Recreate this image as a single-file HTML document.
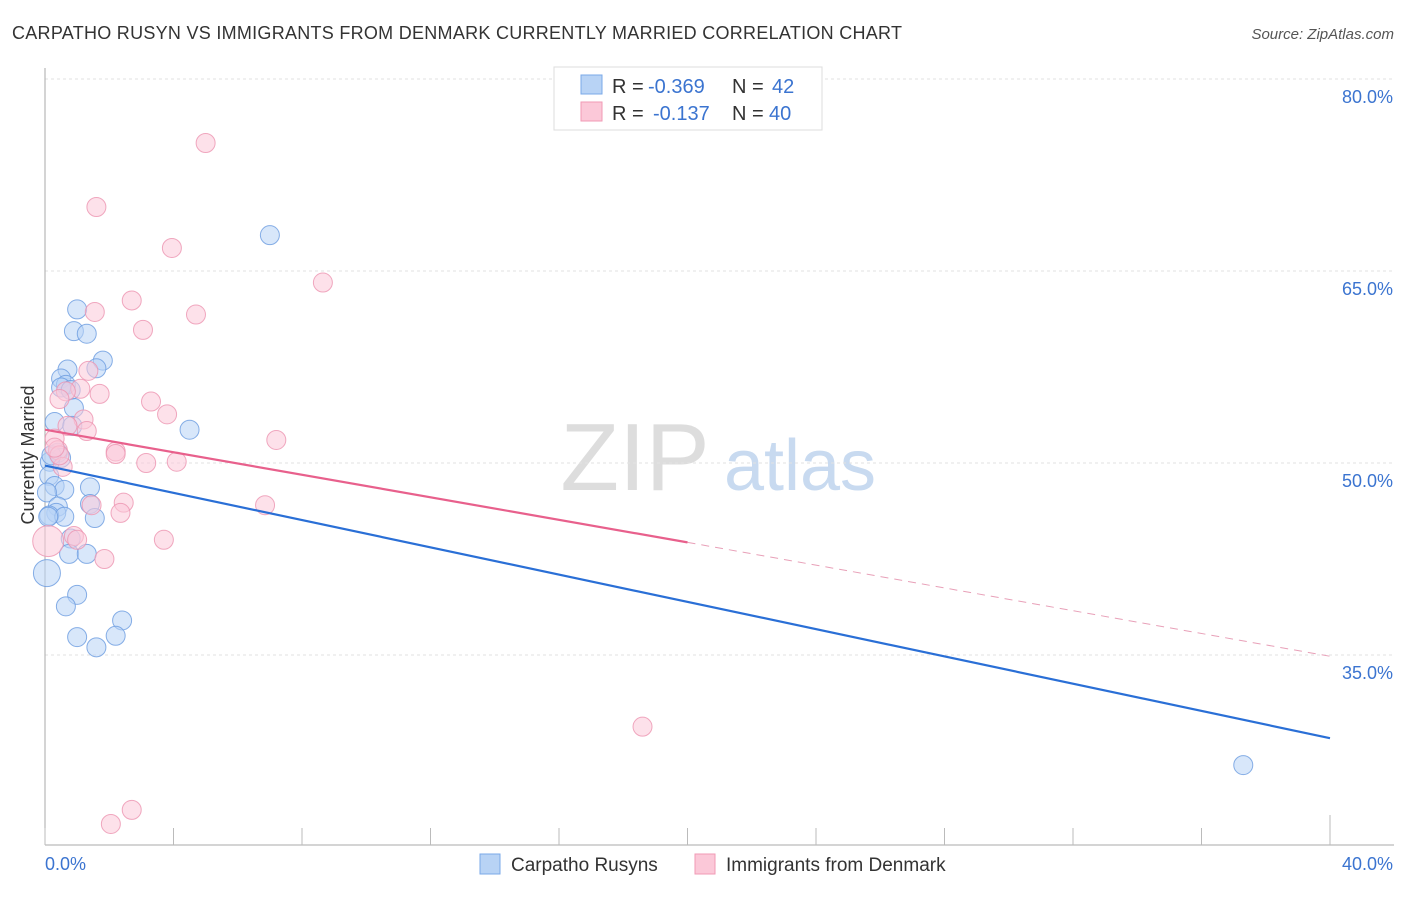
<!DOCTYPE html>
<html><head><meta charset="utf-8"><style>
body{margin:0;background:#fff;font-family:"Liberation Sans",sans-serif}
svg text{font-family:"Liberation Sans",sans-serif}
</style></head><body>
<svg width="1406" height="892" xmlns="http://www.w3.org/2000/svg">
<text x="12" y="39" font-size="18" fill="#333" textLength="890">CARPATHO RUSYN VS IMMIGRANTS FROM DENMARK CURRENTLY MARRIED CORRELATION CHART</text>
<text x="1394" y="39" font-size="15" fill="#555" font-style="italic" text-anchor="end">Source: ZipAtlas.com</text>
<g>
<text x="635" y="490" font-size="96" fill="#ddd" font-family="Liberation Serif" text-anchor="middle">ZIP</text>
<text x="800" y="490" font-size="72" fill="#c8daf0" text-anchor="middle">atlas</text>
</g>
<g id="grid"></g>
<g id="axes"></g>
<g id="pts"></g>
<g id="lines"></g>
<text transform="translate(34,455) rotate(-90)" font-size="18" fill="#333" text-anchor="middle">Currently Married</text>
<g>
<rect x="554" y="67" width="268" height="63" fill="#fff" stroke="#ddd"/>
<rect x="581" y="75" width="21" height="19" fill="#b8d3f5" stroke="#7aa8e8"/>
<rect x="581" y="102" width="21" height="19" fill="#fbc8d8" stroke="#f09ab5"/>
<text x="612" y="93" font-size="20" fill="#333">R =</text>
<text x="648" y="93" font-size="20" fill="#3b74d0">-0.369</text>
<text x="732" y="93" font-size="20" fill="#333">N =</text>
<text x="772" y="93" font-size="20" fill="#3b74d0">42</text>
<text x="612" y="120" font-size="20" fill="#333">R =</text>
<text x="653" y="120" font-size="20" fill="#3b74d0">-0.137</text>
<text x="732" y="120" font-size="20" fill="#333">N =</text>
<text x="769" y="120" font-size="20" fill="#3b74d0">40</text>
</g>
<g>
<rect x="480" y="854" width="20" height="20" fill="#b8d3f5" stroke="#7aa8e8"/>
<text x="511" y="871" font-size="19" fill="#333">Carpatho Rusyns</text>
<rect x="695" y="854" width="20" height="20" fill="#fbc8d8" stroke="#f09ab5"/>
<text x="726" y="871" font-size="19" fill="#333">Immigrants from Denmark</text>
</g>
</svg>
<script>
const yTicks=[35,50,65,80];
const yTickLabels=["35.0%","50.0%","65.0%","80.0%"];
const xTickLabels=["0.0%","40.0%"];
const blueX=[7.0,1.0,0.9,1.3,1.8,0.7,1.6,0.5,0.65,0.5,0.8,0.9,0.3,0.85,4.5,0.4,0.5,0.15,0.13,0.3,1.4,0.6,0.06,0.4,1.4,0.35,0.13,0.6,1.55,0.8,0.75,1.3,0.06,1.0,0.65,2.4,1.0,2.2,1.6,37.3,0.1,0.2];
const blueY=[67.8,62.0,60.3,60.1,58.0,57.3,57.4,56.6,56.1,55.9,55.7,54.3,53.2,52.9,52.6,50.8,50.4,50.1,49.0,48.2,48.1,47.9,47.7,46.6,46.8,46.1,45.9,45.8,45.7,44.1,42.9,42.9,41.4,39.7,38.8,37.7,36.4,36.5,35.6,26.4,45.8,50.6];
const blueR=[9,9,9,9,9,9,9,9,9,9,9,9,9,9,9,9,9,9,9,9,9,9,9,9,9,9,9,9,9,9,9,9,13,9,9,9,9,9,9,9,9,9];
const pinkX=[5.0,1.6,3.95,8.65,2.7,1.55,4.7,3.05,1.35,1.1,0.65,1.7,0.45,3.3,3.8,1.2,0.7,1.3,7.2,0.3,0.4,2.2,2.2,3.15,4.1,0.55,2.45,1.45,2.35,6.85,0.9,1.0,0.1,3.7,1.85,18.6,2.7,2.05,0.45,0.3];
const pinkY=[75.0,70.0,66.8,64.1,62.7,61.8,61.6,60.4,57.2,55.8,55.6,55.4,55.0,54.8,53.8,53.4,52.9,52.5,51.8,51.9,51.0,50.9,50.7,50.0,50.1,49.7,46.9,46.7,46.1,46.7,44.3,44.0,43.9,44.0,42.5,29.4,22.9,21.8,50.6,51.2];
const pinkR=[9,9,9,9,9,9,9,9,9,9,9,9,9,9,9,9,9,9,9,9,9,9,9,9,9,9,9,9,9,9,9,9,15,9,9,9,9,9,9,9];
const blueFit=[0,49.8,40,28.5];
const pinkFit=[0,52.6,20,43.8,40,34.9];
const NS="http://www.w3.org/2000/svg";
const X=v=>45+v/40*1285, Y=v=>463-(v-50)*12.8;
function mk(t,a,p){const e=document.createElementNS(NS,t);for(const k in a)e.setAttribute(k,a[k]);document.getElementById(p).appendChild(e);return e;}
yTicks.forEach((t,i)=>{
 const l=mk('line',{x1:45,x2:1394,y1:Y(t),y2:Y(t),stroke:'#e2e2e2','stroke-dasharray':'3,3'},'grid');
 
 
 const tx=mk('text',{x:1393,y:Y(t)+24,'font-size':18,fill:'#3b74d0','text-anchor':'end'},'grid');tx.textContent=yTickLabels[i];
 
 
});
mk('line',{x1:45,x2:45,y1:68,y2:845,stroke:'#aaa'},'axes');
mk('line',{x1:45,x2:1394,y1:845,y2:845,stroke:'#aaa'},'axes');
for(let i=0;i<=10;i++){const t=mk('line',{x1:X(i*4),x2:X(i*4),y1:i==10?815:828,y2:845,stroke:'#bbb'},'axes');
 
 }
[[0,'start',45],[40,'end',1393]].forEach((d,i)=>{const t=mk('text',{x:d[2],y:870,'font-size':18,fill:'#3b74d0','text-anchor':d[1]},'axes');t.textContent=xTickLabels[i];
 
 });
function pts(xs,ys,rs,f,s,n){xs.forEach((x,i)=>{const c=mk('circle',{cx:X(x),cy:Y(ys[i]),r:rs[i]+0.5,fill:f,'fill-opacity':0.55,stroke:s,'stroke-opacity':0.8},'pts');
 
 });}
pts(blueX,blueY,blueR,'#b8d3f5','#6a9be0','carpatho-rusyn-point');
pts(pinkX,pinkY,pinkR,'#fbc8d8','#ec93b0','denmark-point');
let l=mk('line',{x1:X(blueFit[0]),y1:Y(blueFit[1]),x2:X(blueFit[2]),y2:Y(blueFit[3]),stroke:'#2a6fd6','stroke-width':2.2},'lines');


l=mk('line',{x1:X(pinkFit[0]),y1:Y(pinkFit[1]),x2:X(pinkFit[2]),y2:Y(pinkFit[3]),stroke:'#e8608c','stroke-width':2.2},'lines');


l=mk('line',{x1:X(pinkFit[2]),y1:Y(pinkFit[3]),x2:X(pinkFit[4]),y2:Y(pinkFit[5]),stroke:'#e8a0b8','stroke-width':1,'stroke-dasharray':'8,6'},'lines');


</script>
</body></html>
